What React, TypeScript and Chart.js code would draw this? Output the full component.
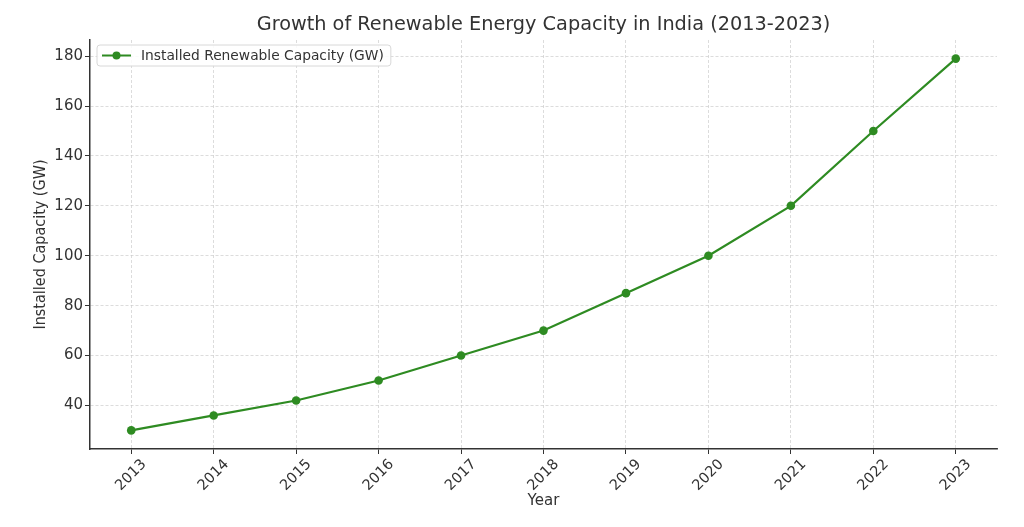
import React, { useEffect, useRef } from "react";
import { Chart, registerables } from "chart.js";

Chart.register(...registerables);

const years = [2013, 2014, 2015, 2016, 2017, 2018, 2019, 2020, 2021, 2022, 2023];
const capacityGW = [30, 36, 42, 50, 60, 70, 85, 100, 120, 150, 179];
const yTicks = [40, 60, 80, 100, 120, 140, 160, 180];
const seriesLabel = "Installed Renewable Capacity (GW)";
const titleText = "Growth of Renewable Energy Capacity in India (2013-2023)";

const GREEN = "#2e8b22";
const FONT = "DejaVu Sans";

const titlePlugin = {
  id: "axesTitle",
  afterDraw(chart: any) {
    const ctx = chart.ctx;
    const area = chart.chartArea;
    ctx.save();
    ctx.font = `19.3px ${FONT}`;
    ctx.fillStyle = "#333";
    ctx.textAlign = "center";
    ctx.textBaseline = "middle";
    ctx.fillText(titleText, (area.left + area.right) / 2, 25);
    ctx.restore();
  },
};

const legendPlugin = {
  id: "boxLegend",
  afterDraw(chart: any) {
    const ctx = chart.ctx;
    const area = chart.chartArea;
    const ds = chart.data.datasets[0];
    ctx.save();
    ctx.font = `13.8px ${FONT}`;
    const tw = ctx.measureText(ds.label).width;
    const x = area.left + 7;
    const y = area.top + 5;
    const w = 44 + tw + 7;
    const h = 21;
    ctx.beginPath();
    const r = 3;
    ctx.moveTo(x + r, y);
    ctx.lineTo(x + w - r, y);
    ctx.quadraticCurveTo(x + w, y, x + w, y + r);
    ctx.lineTo(x + w, y + h - r);
    ctx.quadraticCurveTo(x + w, y + h, x + w - r, y + h);
    ctx.lineTo(x + r, y + h);
    ctx.quadraticCurveTo(x, y + h, x, y + h - r);
    ctx.lineTo(x, y + r);
    ctx.quadraticCurveTo(x, y, x + r, y);
    ctx.closePath();
    ctx.fillStyle = "rgba(255,255,255,0.85)";
    ctx.fill();
    ctx.strokeStyle = "#d8d8d8";
    ctx.lineWidth = 1;
    ctx.stroke();
    const cy = y + h / 2;
    ctx.beginPath();
    ctx.moveTo(x + 5, cy);
    ctx.lineTo(x + 34, cy);
    ctx.strokeStyle = GREEN;
    ctx.lineWidth = 2;
    ctx.stroke();
    ctx.beginPath();
    ctx.arc(x + 19.5, cy, 4, 0, Math.PI * 2);
    ctx.fillStyle = GREEN;
    ctx.fill();
    ctx.fillStyle = "#333";
    ctx.textBaseline = "middle";
    ctx.textAlign = "left";
    ctx.fillText(ds.label, x + 44, cy + 0.5);
    ctx.restore();
  },
};

export default function App() {
  const ref = useRef<HTMLCanvasElement>(null);
  useEffect(() => {
    if (!ref.current) return;
    const chart = new Chart(ref.current, {
      type: "line",
      data: {
        datasets: [
          {
            label: seriesLabel,
            data: years.map((yr, i) => ({ x: yr, y: capacityGW[i] })),
            borderColor: GREEN,
            backgroundColor: GREEN,
            borderWidth: 2.2,
            pointRadius: 4.3,
            pointBorderWidth: 0,
            pointBackgroundColor: GREEN,
            tension: 0,
          },
        ],
      },
      options: {
        responsive: false,
        animation: false,
        layout: { padding: { left: 31, right: 27, top: 40, bottom: 0 } },
        plugins: {
          legend: { display: false },
          tooltip: { enabled: false },
          title: { display: false },
        },
        scales: {
          x: {
            type: "linear",
            min: 2012.5,
            max: 2023.5,
            afterBuildTicks: (scale: any) => {
              scale.ticks = years.map((v) => ({ value: v }));
            },
            afterFit: (scale: any) => {
              scale.height = 78;
            },
            ticks: {
              color: "#333",
              font: { family: FONT, size: 14.5 },
              minRotation: 45,
              maxRotation: 45,
              autoSkip: false,
              padding: 2,
              labelOffset: 13,
              callback: (v: any) => String(v),
            },
            grid: {
              color: "rgba(200,200,200,0.8)",
              lineWidth: 0.8,
              drawTicks: true,
              tickLength: 5,
              tickColor: "#333",
              tickWidth: 1,
              tickBorderDash: [],
            },
            border: { display: true, color: "#333", width: 1.5, dash: [3, 2] },
            title: {
              display: true,
              text: "Year",
              color: "#333",
              font: { family: FONT, size: 15 },
              padding: { top: 0, bottom: 17 },
            },
          },
          y: {
            type: "linear",
            min: 22.55,
            max: 186.45,
            afterBuildTicks: (scale: any) => {
              scale.ticks = yTicks.map((v) => ({ value: v }));
            },
            afterFit: (scale: any) => {
              scale.width = 59;
            },
            ticks: {
              color: "#333",
              font: { family: FONT, size: 15 },
              padding: 2,
              callback: (v: any) => String(v),
            },
            grid: {
              color: "rgba(200,200,200,0.8)",
              lineWidth: 0.8,
              drawTicks: true,
              tickLength: 5,
              tickColor: "#333",
              tickWidth: 1,
              tickBorderDash: [],
            },
            border: { display: true, color: "#333", width: 1.5, dash: [3, 2] },
            title: {
              display: true,
              text: "Installed Capacity (GW)",
              color: "#333",
              font: { family: "DejaVu Sans Condensed, DejaVu Sans, sans-serif", size: 16 },
              padding: { top: 0, bottom: 0 },
            },
          },
        },
      },
      plugins: [titlePlugin, legendPlugin],
    });
    return () => chart.destroy();
  }, []);
  return (
    <div style={{ position: "fixed", left: 0, top: 0, width: 1024, height: 527, background: "#fff" }}>
      <canvas ref={ref} width={1024} height={527} />
    </div>
  );
}
